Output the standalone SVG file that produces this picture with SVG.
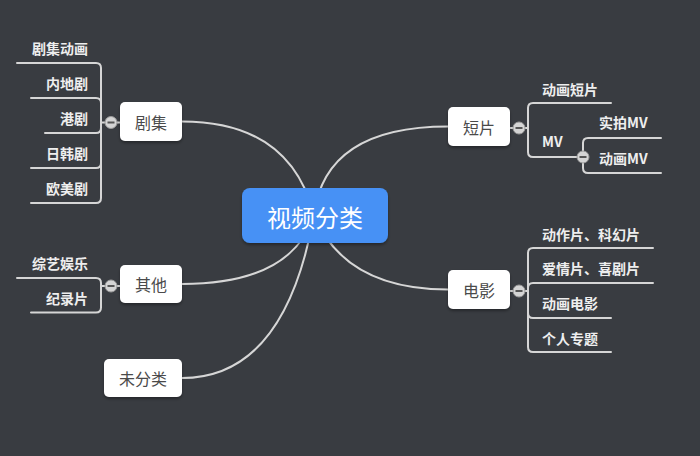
<svg xmlns="http://www.w3.org/2000/svg" width="700" height="456" viewBox="0 0 700 456">
<defs>
<style>
.bg{fill:#393c41}
.ln{fill:none;stroke:#d6d6d6;stroke-width:2;stroke-linecap:round}
.nd{fill:#ffffff}
.nt{font-family:"Noto Sans CJK SC","Liberation Sans",sans-serif;font-size:16px;fill:#4a4a4a;text-anchor:middle;dominant-baseline:central}
.rt{font-family:"Noto Sans CJK SC","Liberation Sans",sans-serif;font-size:24px;fill:#ffffff;text-anchor:middle;dominant-baseline:central}
.lb{font-family:"Noto Sans CJK SC","Liberation Sans",sans-serif;font-size:14px;font-weight:bold;fill:#eeeeee}
.lr{text-anchor:end}
.cc{fill:#d4d4d4;stroke:#9a9a9a;stroke-width:1}
.mn{stroke:#555;stroke-width:2}
</style>
<filter id="sh" x="-20%" y="-20%" width="140%" height="150%">
<feDropShadow dx="0" dy="2" stdDeviation="1.5" flood-color="#000" flood-opacity="0.35"/>
</filter>
</defs>
<rect class="bg" x="0" y="0" width="700" height="456"/>

<g id="connectors">
<path class="ln" d="M182 121.5 Q290 121.5 314 215"/>
<path class="ln" d="M448 126.5 Q325 126.5 314 215"/>
<path class="ln" d="M448 289.5 Q345 289.5 314 215"/>
<path class="ln" d="M182 284 Q292 284 314 215"/>
<path class="ln" d="M182 378 Q285 378 314 215"/>
<path class="ln" d="M120 122.5 H101"/>
<path class="ln" d="M101 122.5 V68 Q101 63 96 63 H17"/>
<path class="ln" d="M101 122.5 V103 Q101 98 96 98 H31"/>
<path class="ln" d="M101 122.5 V128 Q101 133 96 133 H45"/>
<path class="ln" d="M101 122.5 V163 Q101 168 96 168 H31"/>
<path class="ln" d="M101 122.5 V198 Q101 203 96 203 H31"/>
<path class="ln" d="M120 286 H101"/>
<path class="ln" d="M101 286 V283 Q101 278 96 278 H17"/>
<path class="ln" d="M101 286 V307.5 Q101 312.5 96 312.5 H31"/>
<path class="ln" d="M510 128 H528"/>
<path class="ln" d="M528 128 V108 Q528 103 533 103 H611"/>
<path class="ln" d="M528 128 V152 Q528 157 533 157 H583"/>
<path class="ln" d="M583 157 V143 Q583 138 588 138 H661"/>
<path class="ln" d="M583 157 V168 Q583 173 588 173 H661"/>
<path class="ln" d="M510 291 H528"/>
<path class="ln" d="M528 291 V253 Q528 248 533 248 H653"/>
<path class="ln" d="M528 291 V288 Q528 283 533 283 H653"/>
<path class="ln" d="M528 291 V313 Q528 318 533 318 H611"/>
<path class="ln" d="M528 291 V347 Q528 352 533 352 H611"/>
</g>

<g id="root">
<rect x="242" y="188" width="146" height="55" rx="8" fill="#4791f5" filter="url(#sh)"/>
<text class="rt" x="315" y="216">视频分类</text>
</g>

<g id="node-juji">
<rect class="nd" x="120" y="102" width="62" height="39" rx="5" filter="url(#sh)"/>
<text class="nt" x="151" y="121.5">剧集</text>
<circle class="cc" cx="111" cy="122.5" r="6"/><line class="mn" x1="107.5" y1="122.5" x2="114.5" y2="122.5"/>
</g>
<g id="juji-children">
<text class="lb lr" x="88" y="54">剧集动画</text>
<text class="lb lr" x="88" y="89">内地剧</text>
<text class="lb lr" x="88" y="124">港剧</text>
<text class="lb lr" x="88" y="159">日韩剧</text>
<text class="lb lr" x="88" y="194">欧美剧</text>
</g>

<g id="node-qita">
<rect class="nd" x="120" y="265" width="62" height="38" rx="5" filter="url(#sh)"/>
<text class="nt" x="151" y="284">其他</text>
<circle class="cc" cx="111" cy="286" r="6"/><line class="mn" x1="107.5" y1="286" x2="114.5" y2="286"/>
</g>
<g id="qita-children">
<text class="lb lr" x="88" y="269">综艺娱乐</text>
<text class="lb lr" x="88" y="303.5">纪录片</text>
</g>

<g id="node-weifenlei">
<rect class="nd" x="104" y="359" width="78" height="38" rx="5" filter="url(#sh)"/>
<text class="nt" x="143" y="378">未分类</text>
</g>

<g id="node-duanpian">
<rect class="nd" x="448" y="107" width="62" height="39" rx="5" filter="url(#sh)"/>
<text class="nt" x="479" y="126.5">短片</text>
<circle class="cc" cx="519" cy="128" r="6"/><line class="mn" x1="515.5" y1="128" x2="522.5" y2="128"/>
</g>
<g id="duanpian-children">
<text class="lb" x="542" y="94.5">动画短片</text>
<text class="lb" x="542" y="146.5">MV</text>
<circle class="cc" cx="583" cy="157" r="6"/><line class="mn" x1="579.5" y1="157" x2="586.5" y2="157"/>
<text class="lb" x="599" y="127.5">实拍MV</text>
<text class="lb" x="599" y="163.5">动画MV</text>
</g>

<g id="node-dianying">
<rect class="nd" x="448" y="270" width="62" height="39" rx="5" filter="url(#sh)"/>
<text class="nt" x="479" y="289.5">电影</text>
<circle class="cc" cx="519" cy="291" r="6"/><line class="mn" x1="515.5" y1="291" x2="522.5" y2="291"/>
</g>
<g id="dianying-children">
<text class="lb" x="542" y="239.5">动作片、科幻片</text>
<text class="lb" x="542" y="274">爱情片、喜剧片</text>
<text class="lb" x="542" y="308.5">动画电影</text>
<text class="lb" x="542" y="343.5">个人专题</text>
</g>
</svg>
